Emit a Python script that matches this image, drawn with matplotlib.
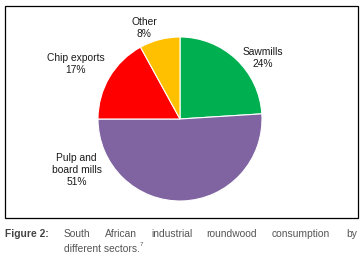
import matplotlib.pyplot as plt
from matplotlib.patches import Rectangle

# data
sectors = ["Sawmills", "Pulp and\nboard mills", "Chip exports", "Other"]
shares = [24, 51, 17, 8]
colors = ["#00B050", "#8064A2", "#FF0000", "#FFC000"]

plt.rcParams['font.family'] = ['Liberation Sans', 'DejaVu Sans']

W, H = 363, 261
fig = plt.figure(figsize=(W / 100, H / 100), dpi=100)

# frame around the chart
fig.patches.append(Rectangle((4.5 / W, 1 - 218 / H), 353 / W, 212 / H,
                             transform=fig.transFigure, fill=False,
                             edgecolor='black', linewidth=0.9))

# pie axes: centre (180, 119) px, radius 82 px
cx, cy, r = 180, 119, 82
ax = fig.add_axes([(cx - r) / W, 1 - (cy + r) / H, 2 * r / W, 2 * r / H])
ax.pie(shares, colors=colors, startangle=90, counterclock=False,
       wedgeprops=dict(edgecolor='white', linewidth=0.8))
ax.set_xlim(-1, 1)
ax.set_ylim(-1, 1)
ax.set_aspect('auto')
ax.axis('off')

# label positions (in radius units)
label_pos = [(1.01, 0.74), (-1.26, -0.62), (-1.27, 0.67), (-0.44, 1.11)]
for name, val, (x, y) in zip(sectors, shares, label_pos):
    ax.text(x, y, f"{name}\n{val}%", ha='center', va='center', fontsize=7.4,
            color='#1a1a1a', linespacing=1.25, clip_on=False)

# caption
fig.text(5 / W, 1 - 234 / H, "Figure 2:", fontsize=7.4, fontweight='bold',
         color='#444444', va='center')
words = ["South", "African", "industrial", "roundwood", "consumption", "by"]
word_x = [64, 105, 151, 206, 272, 346]
for w, x in zip(words, word_x):
    fig.text(x / W, 1 - 234 / H, w, fontsize=7.4, color='#555555', va='center')
fig.text(64 / W, 1 - 249 / H, "different sectors.", fontsize=7.4,
         color='#555555', va='center')
fig.text(140 / W, 1 - 245 / H, "7", fontsize=4.5, color='#555555', va='center')

fig.savefig("out.png", dpi=100)
